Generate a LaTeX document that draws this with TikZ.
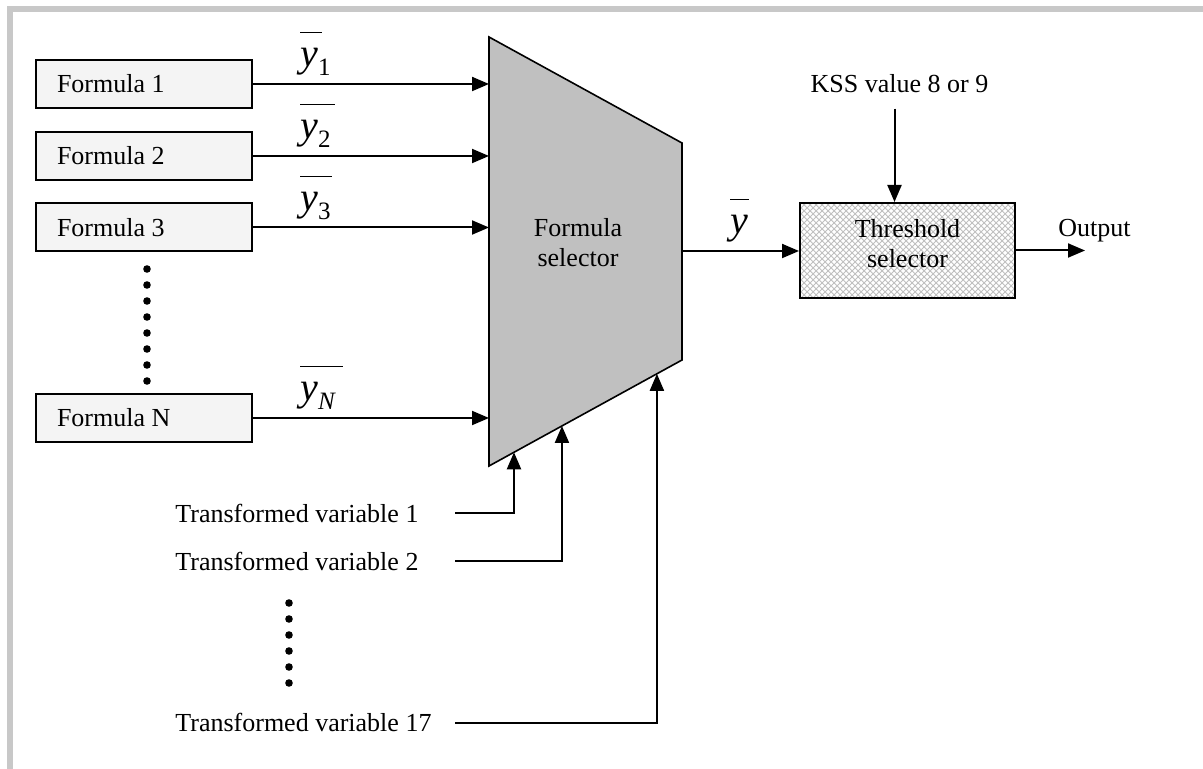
\documentclass[tikz,border=0pt]{standalone}
\usepackage{fontspec}
\setmainfont{Liberation Serif}
\usetikzlibrary{arrows.meta,patterns,calc}
\definecolor{selgray}{RGB}{192,192,192}
\definecolor{framegray}{RGB}{200,200,200}
\definecolor{boxfill}{RGB}{244,244,244}
\newcommand{\ybarlab}[2]{\vbox{\offinterlineskip\hbox{\vrule width #1 height 0.55pt depth 0pt}\kern 8pt\hbox{{\fontsize{20}{20}\selectfont\itshape y}\raisebox{-4.3pt}{\fontsize{12.5}{12.5}\selectfont #2}}}}
\newcommand{\lefttext}[1]{\makebox[87pt][l]{#1}}
\tikzset{
  txt/.style={inner sep=0pt, font=\fontsize{13}{15}\selectfont},
  fbox/.style={draw, line width=1pt, fill=boxfill, minimum height=24pt,
    inner xsep=10.5pt, inner ysep=0pt, font=\fontsize{13}{15}\selectfont},
  thrbox/.style={draw, line width=1pt, pattern=crosshatch, pattern color=black!25,
    minimum width=107.5pt, minimum height=47.5pt, align=center, text depth=7.5pt,
    font=\fontsize{13}{15}\selectfont},
  ylab/.style={anchor=base west, inner sep=0pt},
  arr/.style={line width=1pt, -{Triangle[length=8.5pt,width=7pt]}},
}
\begin{document}
\begin{tikzpicture}[x=0.5pt,y=-0.5pt]
\useasboundingbox (0,0) rectangle (1203,769);
\fill[white] (0,0) rectangle (1203,769);
\draw[line width=3pt, framegray] (9.5,769) -- (9.5,9.5) -- (1203,9.5);

% formula boxes
\node[fbox] (f1) at (144,84) {\lefttext{Formula 1}};
\node[fbox] (f2) at (144,156) {\lefttext{Formula 2}};
\node[fbox] (f3) at (144,227.5) {\lefttext{Formula 3}};
\node[fbox] (fN) at (144,418) {\lefttext{Formula N}};

% formula selector
\coordinate (tl) at (489,37);
\coordinate (tr) at (682,143);
\coordinate (br) at (682,360);
\coordinate (bl) at (489,466);
\draw[line width=0.8pt, fill=selgray] (tl) -- (tr) -- (br) -- (bl) -- cycle;
\node[txt, align=center] (seltxt) at (578,243) {Formula\\selector};

\foreach \n in {f1,f2,f3,fN} \draw[arr] (\n.east) -- (\n.east -| tl);

% labels
\node[ylab] (y1) at (300,67) {\ybarlab{11pt}{1}};
\node[ylab] (y2) at (300,139) {\ybarlab{17.5pt}{2}};
\node[ylab] (y3) at (300,211) {\ybarlab{16pt}{3}};
\node[ylab] (yN) at (300,401) {\ybarlab{21.5pt}{\itshape N}};
\node[ylab] (yo) at (730,234) {\ybarlab{9.5pt}{}};

% threshold selector
\node[thrbox] (thr) at (907.5,250.5) {Threshold\\selector};
\coordinate (selout) at (682,251);
\draw[arr] (selout) -- (selout -| thr.west);

\node[txt, anchor=base] (kss) at (899.5,93) {KSS value 8 or 9};
\coordinate (kssfoot) at ([xshift=-2.5pt,yshift=-7.5pt]kss.south);
\draw[arr] (kssfoot) -- (kssfoot |- thr.north);

\node[txt, anchor=base west] (out) at (1058,237) {Output};
\coordinate (outend) at (1085,251);
\draw[arr] (thr.east) -- (thr.east -| outend);

% dots
\foreach \k in {0,...,7} \fill (147,{269+16*\k}) circle[radius=1.9pt];
\foreach \k in {0,...,5} \fill (289,{603+16*\k}) circle[radius=1.9pt];

% transformed variables
\node[txt, anchor=base west] (tv1) at (175,522) {Transformed variable 1};
\node[txt, anchor=base west] (tv2) at (175,570) {Transformed variable 2};
\node[txt, anchor=base west] (tv17) at (175,731) {Transformed variable 17};
\coordinate (s1) at (455,513);
\coordinate (s2) at (455,561);
\coordinate (s17) at (455,723);
\draw[arr] (s1) -| ($(bl)!0.1295!(br)$);
\draw[arr] (s2) -| ($(bl)!0.378!(br)$);
\draw[arr] (s17) -| ($(bl)!0.870!(br)$);
\end{tikzpicture}
\end{document}
